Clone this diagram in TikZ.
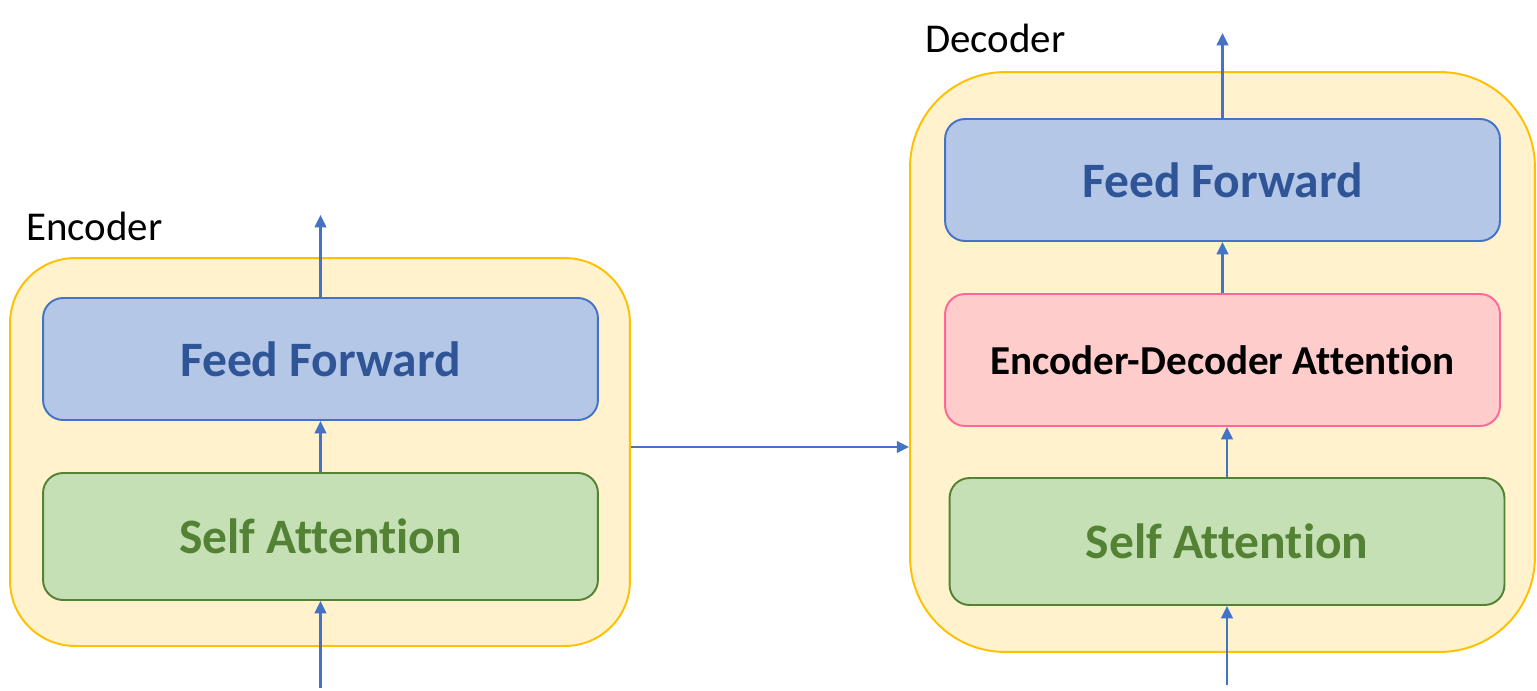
\documentclass[tikz,border=0pt]{standalone}
\usepackage{fontspec}
\setmainfont{Carlito}[Ligatures=NoCommon]
\usetikzlibrary{arrows.meta}
\definecolor{outerfill}{HTML}{FFF2CC}
\definecolor{outerdraw}{HTML}{FFC000}
\definecolor{fffill}{HTML}{B4C7E7}
\definecolor{ffdraw}{HTML}{4472C4}
\definecolor{fftext}{HTML}{2F5597}
\definecolor{safill}{HTML}{C5E0B4}
\definecolor{sadraw}{HTML}{548235}
\definecolor{satext}{HTML}{548235}
\definecolor{edafill}{HTML}{FFCCCC}
\definecolor{edadraw}{HTML}{FF6699}
\definecolor{arrowcol}{HTML}{4472C4}
\begin{document}
\begin{tikzpicture}[
		x=0.02cm, y=-0.02cm,
		outer/.style={draw=outerdraw, fill=outerfill, line width=1.1pt},
		block/.style={rounded corners=0.4cm, line width=1.1pt, minimum width=11.1cm, font=\fontsize{28.2}{30}\selectfont\bfseries},
		ffblock/.style={block, draw=ffdraw, fill=fffill, text=fftext, minimum height=2.44cm},
		sablock/.style={block, draw=sadraw, fill=safill, text=satext, minimum height=2.54cm},
		edablock/.style={block, draw=edadraw, fill=edafill, text=black, minimum height=2.64cm, font=\fontsize{23.4}{26}\selectfont\bfseries},
		title/.style={anchor=west, inner sep=0pt, font=\fontsize{23.3}{26}\selectfont},
		arr/.style={draw=arrowcol, line width=1.5pt, -{Triangle[length=7pt,width=6.5pt]}}
		]
		\useasboundingbox (0,0) rectangle (1537,690);
		
		% encoder
		\node[outer, rounded corners=1.3cm, minimum width=12.4cm, minimum height=7.76cm] (encbox) at (320,452) {};
		\node[title] (enclabel) at (26,226) {Encoder};
		\node[ffblock] (encff) at (320.5,359) {Feed Forward};
		\node[sablock] (encsa) at (320.5,536.5) {Self Attention};
		\coordinate (encin) at (320.5,688);
		\coordinate (encout) at (320.5,215);
		
		% decoder
		\node[outer, rounded corners=1.9cm, minimum width=12.5cm, minimum height=11.6cm] (decbox) at (1222.5,362) {};
		\node[title] (declabel) at (925,38) {Decoder};
		\node[ffblock] (decff) at (1222.5,180) {Feed Forward};
		\node[edablock] (deceda) at (1222.5,360) {Encoder-Decoder Attention};
		\node[sablock] (decsa) at (1227,541.5) {Self Attention};
		\coordinate (decin) at (1227,685);
		\coordinate (decout) at (1222.5,33);
		
		\draw[arr] (encin) -- (encsa);
		\draw[arr] (encsa) -- (encff);
		\draw[arr] (encff) -- (encout);
		\draw[arr] ([yshift=0.1cm]encbox.east) -- ([yshift=0.1cm]encbox.east -| decbox.west);
		\draw[arr] (decin) -- (decsa);
		\draw[arr] (decsa.north) -- (decsa.north |- deceda.south);
		\draw[arr] (deceda) -- (decff);
		\draw[arr] (decff) -- (decout);
\end{tikzpicture}
\end{document}
